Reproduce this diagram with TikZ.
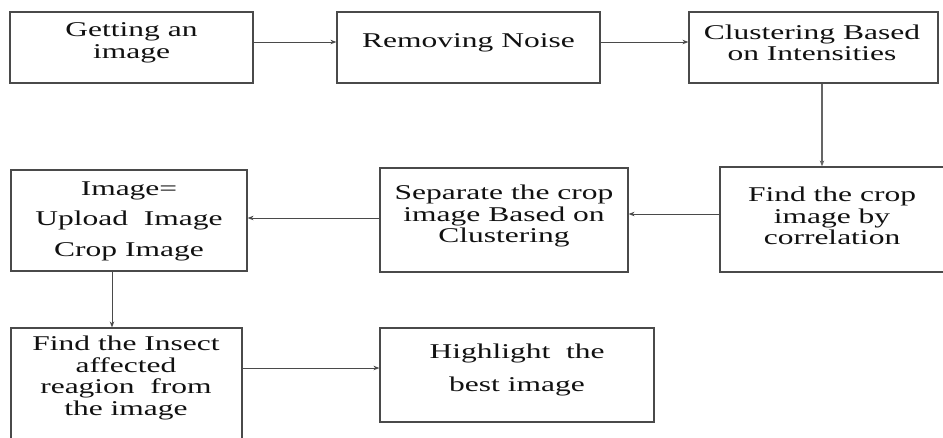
\documentclass[tikz,border=0pt]{standalone}
\usepackage{fontspec}
\setmainfont[FakeStretch=1.5]{Liberation Serif}
\usetikzlibrary{arrows.meta}
\definecolor{edge}{HTML}{4A4A4A}
\definecolor{ink}{HTML}{111111}
\tikzset{
  stagebox/.style={draw=edge, line width=1.2pt, rectangle, inner sep=0pt},
  label/.style={text=ink, align=center, inner sep=0pt, font=\fontsize{21}{21.5}\selectfont},
  flow/.style={draw=edge, line width=0.8pt, -{Stealth[length=6pt,width=4.5pt]}},
}
\newcommand{\stage}[5]{% name, x1, y1, x2, y2
  \node[stagebox, minimum width={(#4)-(#2)}, minimum height={(#5)-(#3)}]
    (#1) at ({((#2)+(#4))/2},{((#3)+(#5))/2}) {};}
\begin{document}
\begin{tikzpicture}[x=1pt, y=-1pt]
\useasboundingbox (0,0) rectangle (943,437);
\clip (0,0) rectangle (943,437);
\fill[white] (0,0) rectangle (943,437);

% first row
\stage{getimg}{10}{12}{253}{83}
\stage{denoise}{337}{12}{600}{83}
\stage{cluster}{689}{12}{938}{83}
\node[label] (tget) at (131.5,43) {Getting an\\image};
\node[label] (tden) at (468.5,43) {Removing Noise};
\node[label] (tclu) at (812,43) {Clustering Based\\on Intensities};

% second row
\stage{findcrop}{720}{167}{950}{272}
\stage{separate}{380}{168}{628}{272}
\stage{merge}{11}{170}{247}{271}
\node[label] (tfind) at (832,216) {Find the crop\\image by\\correlation};
\node[label] (tsep) at (504,216) {Separate the crop\\image Based on\\Clustering};
\node[label] (tmerge) at (129,221) {Image=\\[9pt]Upload\ \ Image\\[9pt]Crop Image};

% third row
\stage{insect}{11}{328}{242}{450}
\stage{highlight}{380}{328}{654}{422}
\node[label] (tins) at (126,378) {Find the Insect\\affected\\reagion\ \ from\\the image};
\node[label] (thigh) at (517,370) {Highlight\ \ the\\[12pt]best image};

% connectors
\coordinate (dropA) at (822,0);
\coordinate (dropB) at (112,0);
\coordinate (rowA) at (0,214);
\coordinate (rowB) at (0,218);
\coordinate (rowC) at (0,368);
\coordinate (rowD) at (0,42);
\draw[flow] (getimg.east |- rowD) -- (denoise.west |- rowD);
\draw[flow] (denoise.east |- rowD) -- (cluster.west |- rowD);
\draw[flow, line width=1.4pt, draw=edge!85] (cluster.south -| dropA) -- (findcrop.north -| dropA);
\draw[flow] (findcrop.west |- rowA) -- (separate.east |- rowA);
\draw[flow] (separate.west |- rowB) -- (merge.east |- rowB);
\draw[flow] (merge.south -| dropB) -- (insect.north -| dropB);
\draw[flow] (insect.east |- rowC) -- (highlight.west |- rowC);
\end{tikzpicture}
\end{document}
